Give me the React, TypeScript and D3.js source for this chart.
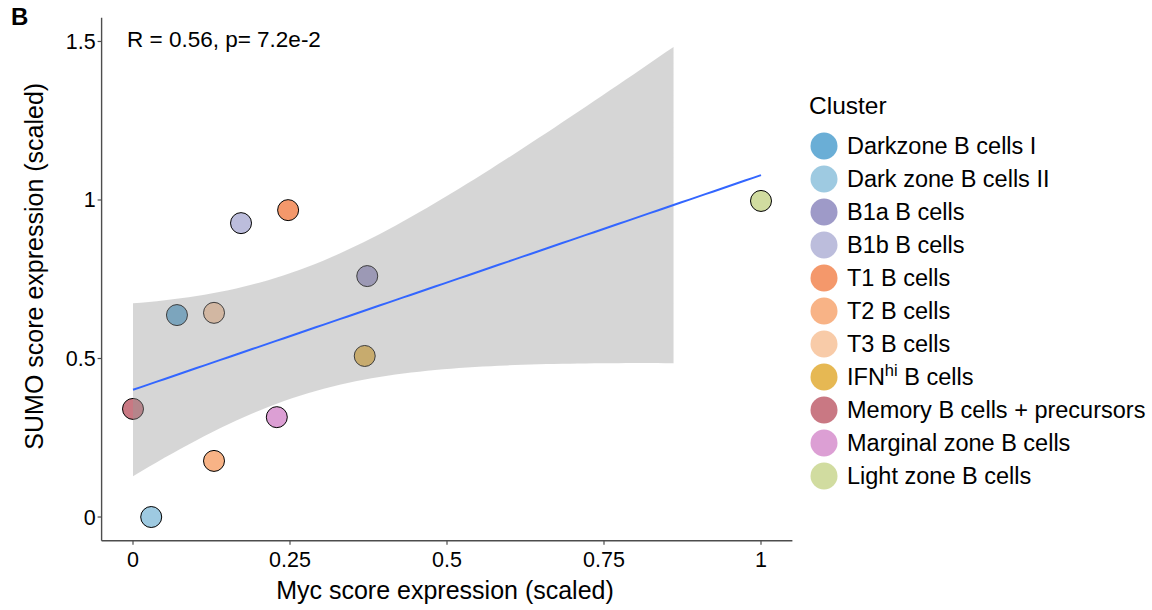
import React from "react";
import * as d3 from "d3";

const clusters = [
  "Darkzone B cells I",
  "Dark zone B cells II",
  "B1a B cells",
  "B1b B cells",
  "T1 B cells",
  "T2 B cells",
  "T3 B cells",
  "IFNhi B cells",
  "Memory B cells + precursors",
  "Marginal zone B cells",
  "Light zone B cells",
];
const colors = [
  "#6aaed6", "#9ecae1", "#9e9ac8", "#bcbddc", "#f4986b", "#f8b386",
  "#f8cba8", "#e6b853", "#c97883", "#dc9fd4", "#d1dca0",
];
const mycScore = [0.07, 0.029, 0.373, 0.172, 0.247, 0.129, 0.129, 0.369, 0, 0.229, 1];
const sumoScore = [0.637, 0, 0.76, 0.927, 0.968, 0.177, 0.644, 0.508, 0.341, 0.315, 0.997];
const xTicks = [0, 0.25, 0.5, 0.75, 1];
const xTickLabels = ["0", "0.25", "0.5", "0.75", "1"];
const yTicks = [0, 0.5, 1, 1.5];
const yTickLabels = ["0", "0.5", "1", "1.5"];
const yLimits = [0, 1.5];
const annotation = "R = 0.56, p= 7.2e-2";

const FONT = "'Liberation Sans', Arial, sans-serif";

function fit() {
  const n = mycScore.length;
  const mx = d3.mean(mycScore)!;
  const my = d3.mean(sumoScore)!;
  let sxy = 0, sxx = 0, syy = 0;
  for (let i = 0; i < n; i++) {
    sxy += (mycScore[i] - mx) * (sumoScore[i] - my);
    sxx += (mycScore[i] - mx) ** 2;
    syy += (sumoScore[i] - my) ** 2;
  }
  const b = sxy / sxx;
  const a = my - b * mx;
  const s = Math.sqrt((syy - b * sxy) / (n - 2));
  const t = 2.262157; // t(0.975, 9)
  const x0 = d3.min(mycScore)!, x1 = d3.max(mycScore)!;
  return d3.range(80).map((i) => {
    const x = x0 + ((x1 - x0) * i) / 79;
    const yh = a + b * x;
    const se = s * Math.sqrt(1 / n + (x - mx) ** 2 / sxx);
    return { x, y: yh, lo: yh - t * se, hi: yh + t * se };
  });
}

export default function App() {
  const W = 1152, H = 610;
  const x = d3.scaleLinear().domain([-0.05, 1.05]).range([101.6, 792.4]);
  const y = d3.scaleLinear().domain([-0.075, 1.575]).range([540.8, 17.7]);
  const pts = fit();
  const ribbonPts = pts.filter((p) => p.hi <= yLimits[1]);
  const area = d3
    .area<any>()
    .x((d) => x(d.x))
    .y0((d) => y(d.lo))
    .y1((d) => y(d.hi));
  const line = d3
    .line<any>()
    .x((d) => x(d.x))
    .y((d) => y(d.y));
  const axisColor = "#4d4d4d";
  const [xl, xr] = x.range();
  const [yb, yt] = y.range();

  return (
    <svg width={W} height={H} style={{ position: "absolute", left: 0, top: 0 }} fontFamily={FONT}>
      <rect width={W} height={H} fill="#ffffff" />
      <text x={11} y={25} fontSize={24} fontWeight="bold" fill="#000">B</text>

      {mycScore.map((mv, i) => (
        <circle
          key={i}
          cx={x(mv)}
          cy={y(sumoScore[i])}
          r={10.5}
          fill={colors[i]}
          stroke="#000"
          strokeWidth={1}
        />
      ))}

      <path d={area(ribbonPts) || ""} fill="#999999" fillOpacity={0.4} />
      <path d={line(pts) || ""} fill="none" stroke="#3366FF" strokeWidth={2} />

      {/* axes */}
      <line x1={xl} x2={xl} y1={yb} y2={yt} stroke={axisColor} strokeWidth={1.4} />
      <line x1={xl} x2={xr} y1={yb} y2={yb} stroke={axisColor} strokeWidth={1.4} />
      {yTicks.map((t, i) => (
        <g key={i}>
          <line x1={xl - 4} x2={xl} y1={y(t)} y2={y(t)} stroke={axisColor} strokeWidth={1.2} />
          <text x={xl - 6} y={y(t) + 7.5} textAnchor="end" fontSize={21.5} fill="#000">
            {yTickLabels[i]}
          </text>
        </g>
      ))}
      {xTicks.map((t, i) => (
        <g key={i}>
          <line x1={x(t)} x2={x(t)} y1={yb} y2={yb + 4} stroke={axisColor} strokeWidth={1.2} />
          <text x={x(t)} y={566.5} textAnchor="middle" fontSize={21.5} fill="#000">
            {xTickLabels[i]}
          </text>
        </g>
      ))}
      <text x={(xl + xr) / 2 - 2} y={599} textAnchor="middle" fontSize={25} fill="#000">
        Myc score expression (scaled)
      </text>
      <text
        transform={`translate(43, ${(yb + yt) / 2 - 13}) rotate(-90)`}
        textAnchor="middle"
        fontSize={25}
        fill="#000"
      >
        SUMO score expression (scaled)
      </text>

      <text x={127} y={47} fontSize={22.5} fill="#000">{annotation}</text>

      {/* legend */}
      <text x={809} y={114} fontSize={24.5} fill="#000">Cluster</text>
      {clusters.map((c, i) => {
        const cy = 146 + i * 33;
        return (
          <g key={c}>
            <circle cx={824} cy={cy} r={13.5} fill={colors[i]} />
            <text x={847} y={cy + 8} fontSize={23.5} fill="#000">
              {c === "IFNhi B cells" ? (
                <>
                  IFN
                  <tspan dy={-9} fontSize={16.5}>hi</tspan>
                  <tspan dy={9}> B cells</tspan>
                </>
              ) : (
                c
              )}
            </text>
          </g>
        );
      })}
    </svg>
  );
}
